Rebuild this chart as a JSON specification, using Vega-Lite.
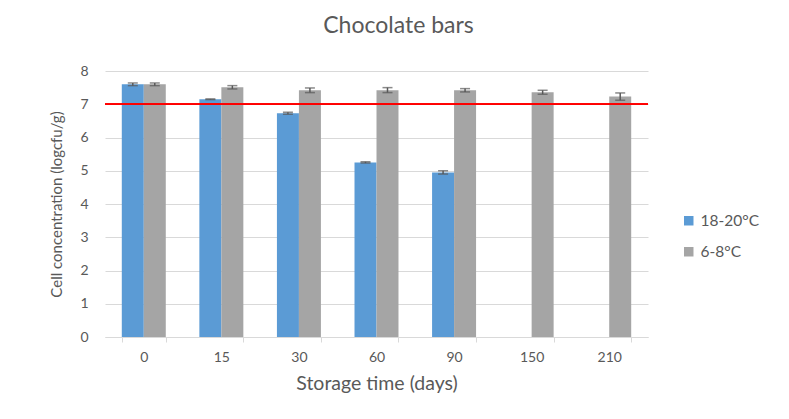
{
  "$schema": "https://vega.github.io/schema/vega-lite/v6.json",
  "width": 543,
  "height": 266,
  "autosize": {"type": "none"},
  "padding": {"left": 105, "top": 71, "right": 141, "bottom": 82},
  "background": "white",
  "title": {"text": "Chocolate bars", "fontSize": 23, "font": "Lato", "fontWeight": "normal", "color": "#595959", "dx": 22, "offset": 26},
  "config": {
    "font": "Lato",
    "view": {"stroke": null},
    "axis": {"labelFont": "Lato", "titleFont": "Lato", "labelColor": "#595959", "titleColor": "#595959", "titleFontWeight": "normal", "labelFontSize": 14}
  },
  "data": {
    "values": [
      {"day": "0", "temp": "18-20°C", "value": 7.6, "lo": 7.56, "hi": 7.64},
      {"day": "0", "temp": "6-8°C", "value": 7.6, "lo": 7.56, "hi": 7.64},
      {"day": "15", "temp": "18-20°C", "value": 7.15, "lo": 7.14, "hi": 7.16},
      {"day": "15", "temp": "6-8°C", "value": 7.51, "lo": 7.46, "hi": 7.56},
      {"day": "30", "temp": "18-20°C", "value": 6.73, "lo": 6.7, "hi": 6.76},
      {"day": "30", "temp": "6-8°C", "value": 7.42, "lo": 7.35, "hi": 7.49},
      {"day": "60", "temp": "18-20°C", "value": 5.25, "lo": 5.23, "hi": 5.27},
      {"day": "60", "temp": "6-8°C", "value": 7.42, "lo": 7.35, "hi": 7.5},
      {"day": "90", "temp": "18-20°C", "value": 4.95, "lo": 4.9, "hi": 5.0},
      {"day": "90", "temp": "6-8°C", "value": 7.42, "lo": 7.37, "hi": 7.47},
      {"day": "150", "temp": "6-8°C", "value": 7.36, "lo": 7.3, "hi": 7.42},
      {"day": "210", "temp": "6-8°C", "value": 7.23, "lo": 7.12, "hi": 7.34}
    ]
  },
  "layer": [
    {
      "mark": {"type": "bar"},
      "encoding": {
        "x": {"field": "day", "type": "nominal", "sort": ["0", "15", "30", "60", "90", "150", "210"],
              "scale": {"paddingInner": 0.433, "paddingOuter": 0.2165},
              "axis": {"title": "Storage time (days)", "titleFontSize": 19.5, "labelAngle": 0, "tickBand": "extent", "domainColor": "#d9d9d9", "tickColor": "#d9d9d9", "tickSize": 5, "labelPadding": 8, "titlePadding": 10, "grid": false}},
        "xOffset": {"field": "temp", "type": "nominal", "sort": ["18-20°C", "6-8°C"], "scale": {"paddingInner": 0, "paddingOuter": 0}},
        "y": {"field": "value", "type": "quantitative", "scale": {"domain": [0, 8]},
              "axis": {"title": "Cell concentration (logcfu/g)", "titleFontSize": 15, "values": [0, 1, 2, 3, 4, 5, 6, 7, 8], "grid": true, "gridColor": "#d9d9d9", "gridWidth": 1, "domain": false, "ticks": false, "labelPadding": 17, "titlePadding": 15}},
        "color": {"field": "temp", "type": "nominal", "sort": ["18-20°C", "6-8°C"],
                  "scale": {"domain": ["18-20°C", "6-8°C"], "range": ["#5B9BD5", "#A5A5A5"]},
                  "legend": {"title": null, "orient": "none", "legendX": 576, "legendY": 142, "symbolType": "square", "symbolSize": 90, "symbolStrokeWidth": 0, "labelFontSize": 15.5, "labelColor": "#595959", "labelFont": "Lato", "rowPadding": 14}}
      }
    },
    {
      "mark": {"type": "rule", "color": "#595959", "strokeWidth": 1.5},
      "encoding": {
        "x": {"field": "day", "type": "nominal", "sort": ["0", "15", "30", "60", "90", "150", "210"]},
        "xOffset": {"field": "temp", "type": "nominal", "sort": ["18-20°C", "6-8°C"]},
        "y": {"field": "lo", "type": "quantitative",
              "axis": {"title": "Cell concentration (logcfu/g)", "titleFontSize": 15, "values": [0, 1, 2, 3, 4, 5, 6, 7, 8], "grid": true, "gridColor": "#d9d9d9", "gridWidth": 1, "domain": false, "ticks": false, "labelPadding": 17, "titlePadding": 15}},
        "y2": {"field": "hi"}
      }
    },
    {
      "mark": {"type": "tick", "color": "#595959", "size": 10, "thickness": 1.5},
      "encoding": {
        "x": {"field": "day", "type": "nominal", "sort": ["0", "15", "30", "60", "90", "150", "210"]},
        "xOffset": {"field": "temp", "type": "nominal", "sort": ["18-20°C", "6-8°C"]},
        "y": {"field": "lo", "type": "quantitative",
              "axis": {"title": "Cell concentration (logcfu/g)", "titleFontSize": 15, "values": [0, 1, 2, 3, 4, 5, 6, 7, 8], "grid": true, "gridColor": "#d9d9d9", "gridWidth": 1, "domain": false, "ticks": false, "labelPadding": 17, "titlePadding": 15}}
      }
    },
    {
      "mark": {"type": "tick", "color": "#595959", "size": 10, "thickness": 1.5},
      "encoding": {
        "x": {"field": "day", "type": "nominal", "sort": ["0", "15", "30", "60", "90", "150", "210"]},
        "xOffset": {"field": "temp", "type": "nominal", "sort": ["18-20°C", "6-8°C"]},
        "y": {"field": "hi", "type": "quantitative",
              "axis": {"title": "Cell concentration (logcfu/g)", "titleFontSize": 15, "values": [0, 1, 2, 3, 4, 5, 6, 7, 8], "grid": true, "gridColor": "#d9d9d9", "gridWidth": 1, "domain": false, "ticks": false, "labelPadding": 17, "titlePadding": 15}}
      }
    },
    {
      "mark": {"type": "rule", "color": "#FF0000", "strokeWidth": 1},
      "encoding": {
        "y": {"datum": 7, "type": "quantitative",
              "axis": {"title": "Cell concentration (logcfu/g)", "titleFontSize": 15, "values": [0, 1, 2, 3, 4, 5, 6, 7, 8], "grid": true, "gridColor": "#d9d9d9", "gridWidth": 1, "domain": false, "ticks": false, "labelPadding": 17, "titlePadding": 15}}
      }
    }
  ]
}
